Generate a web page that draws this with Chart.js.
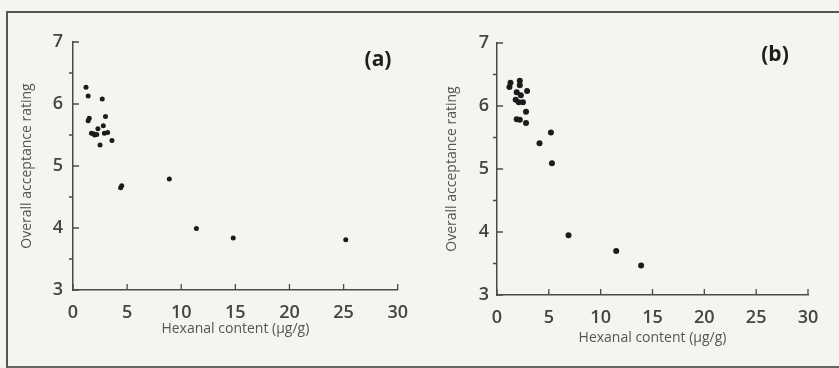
<!DOCTYPE html>
<html>
<head>
<meta charset="utf-8">
<script src="https://cdn.jsdelivr.net/npm/chart.js@4.4.0/dist/chart.umd.min.js"></script>
<style>
  html, body { margin: 0; padding: 0; background: #f4f4f1; }
  #wrap { position: relative; width: 839px; height: 368px; overflow: hidden; }
  #frame { position: absolute; left: 6px; top: 11px; width: 840px; height: 353px;
           border-left: 2px solid #555; border-top: 2px solid #555; border-bottom: 2px solid #666; }
  #ca { position: absolute; left: 0; top: 0; }
  #cb { position: absolute; left: 420px; top: 0; }
</style>
</head>
<body>
<div id="wrap">
  <div id="frame"></div>
  <canvas id="ca" width="420" height="368"></canvas>
  <canvas id="cb" width="419" height="368"></canvas>
</div>
<script>
// panel (a)
var hexanalA = [1.2, 1.4, 2.7, 1.5, 1.4, 3.0, 2.8, 2.3, 1.7, 1.9, 2.0, 2.2, 2.9, 3.2, 2.5, 3.6, 4.5, 4.4, 8.9, 11.4, 14.8, 25.2];
var ratingA  = [6.27, 6.13, 6.08, 5.77, 5.73, 5.80, 5.65, 5.60, 5.53, 5.52, 5.50, 5.51, 5.53, 5.54, 5.34, 5.41, 4.68, 4.65, 4.79, 3.99, 3.84, 3.81];

// panel (b)
var hexanalB = [1.3, 1.2, 2.2, 2.2, 2.9, 1.9, 2.3, 1.8, 2.1, 2.5, 2.8, 1.9, 2.2, 2.8, 5.2, 4.1, 5.3, 6.9, 11.5, 13.9];
var ratingB  = [6.37, 6.30, 6.40, 6.33, 6.24, 6.22, 6.17, 6.10, 6.06, 6.06, 5.91, 5.79, 5.78, 5.73, 5.58, 5.41, 5.09, 3.95, 3.70, 3.47];

var xTicks = [0, 5, 10, 15, 20, 25, 30];
var yTicks = [3, 4, 5, 6, 7];
var xTitle = 'Hexanal content (\u00b5g/g)';
var yTitle = 'Overall acceptance rating';

var axisColor = '#4a4a4a';
var tickFont = { family: 'Open Sans', size: 18, weight: '600' };
var titleFont = { family: 'Open Sans', size: 14 };

// inward major ticks, outward minor ticks on y, plus panel letter
var tickPlugin = {
  id: 'ticksAndLabel',
  afterDraw: function(chart) {
    var ctx = chart.ctx;
    var xs = chart.scales.x, ys = chart.scales.y;
    var area = chart.chartArea;
    ctx.save();
    ctx.strokeStyle = axisColor;
    ctx.lineWidth = 1.3;
    ctx.beginPath();
    xTicks.forEach(function(v) {
      var px = xs.getPixelForValue(v);
      ctx.moveTo(px, area.bottom);
      ctx.lineTo(px, area.bottom - 6);
    });
    yTicks.forEach(function(v) {
      var py = ys.getPixelForValue(v);
      ctx.moveTo(area.left, py);
      ctx.lineTo(area.left + 6, py);
    });
    [3.5, 4.5, 5.5, 6.5].forEach(function(v) {
      var py = ys.getPixelForValue(v);
      ctx.moveTo(area.left, py);
      ctx.lineTo(area.left - 4, py);
    });
    ctx.stroke();
    var lab = chart.options.plugins.ticksAndLabel;
    ctx.fillStyle = '#1e1e1e';
    ctx.font = 'bold 21px "Open Sans"';
    ctx.textAlign = 'center';
    ctx.textBaseline = 'middle';
    ctx.fillText(lab.text, lab.x, lab.y);
    ctx.restore();
  }
};

function makeOptions(cfg) {
  return {
    responsive: false,
    animation: false,
    layout: { padding: { left: 0, top: cfg.top, right: cfg.right, bottom: 0 } },
    plugins: {
      legend: { display: false },
      tooltip: { enabled: false },
      ticksAndLabel: { text: cfg.label, x: cfg.labelX, y: cfg.labelY }
    },
    scales: {
      x: {
        type: 'linear', min: 0, max: 30,
        afterFit: function(s) { s.height = cfg.xHeight; },
        border: { display: true, color: axisColor, width: 1.5 },
        grid: { display: false, drawTicks: false },
        ticks: { stepSize: 5, padding: cfg.xPad, color: '#444', font: tickFont, maxRotation: 0 },
        title: { display: true, text: xTitle, color: '#555', font: titleFont, padding: { top: 0, bottom: cfg.xTitlePad } }
      },
      y: {
        type: 'linear', min: 3, max: 7,
        afterFit: function(s) { s.width = cfg.yWidth; },
        border: { display: true, color: axisColor, width: 1.5 },
        grid: { display: false, drawTicks: false },
        ticks: { stepSize: 1, padding: cfg.yPad, color: '#444', font: tickFont },
        title: { display: true, text: yTitle, color: '#555', font: titleFont, padding: { top: cfg.yTitlePad, bottom: 0 } }
      }
    }
  };
}

function points(xs, ys) {
  return xs.map(function(x, i) { return { x: x, y: ys[i] }; });
}

new Chart(document.getElementById('ca'), {
  type: 'scatter',
  data: { datasets: [{ data: points(hexanalA, ratingA), pointRadius: 2.5, pointBackgroundColor: '#1b1b1b', pointBorderWidth: 0 }] },
  options: makeOptions({ top: 42, right: 13, xHeight: 78, yWidth: 73, xPad: 12, yPad: 10, xTitlePad: 31, yTitlePad: 19,
                         label: '(a)', labelX: 378, labelY: 60 }),
  plugins: [tickPlugin]
});

new Chart(document.getElementById('cb'), {
  type: 'scatter',
  data: { datasets: [{ data: points(hexanalB, ratingB), pointRadius: 3, pointBackgroundColor: '#1b1b1b', pointBorderWidth: 0 }] },
  options: makeOptions({ top: 43, right: 31, xHeight: 73, yWidth: 77, xPad: 12, yPad: 8, xTitlePad: 22, yTitlePad: 24,
                         label: '(b)', labelX: 355, labelY: 55 }),
  plugins: [tickPlugin]
});
</script>
</body>
</html>
